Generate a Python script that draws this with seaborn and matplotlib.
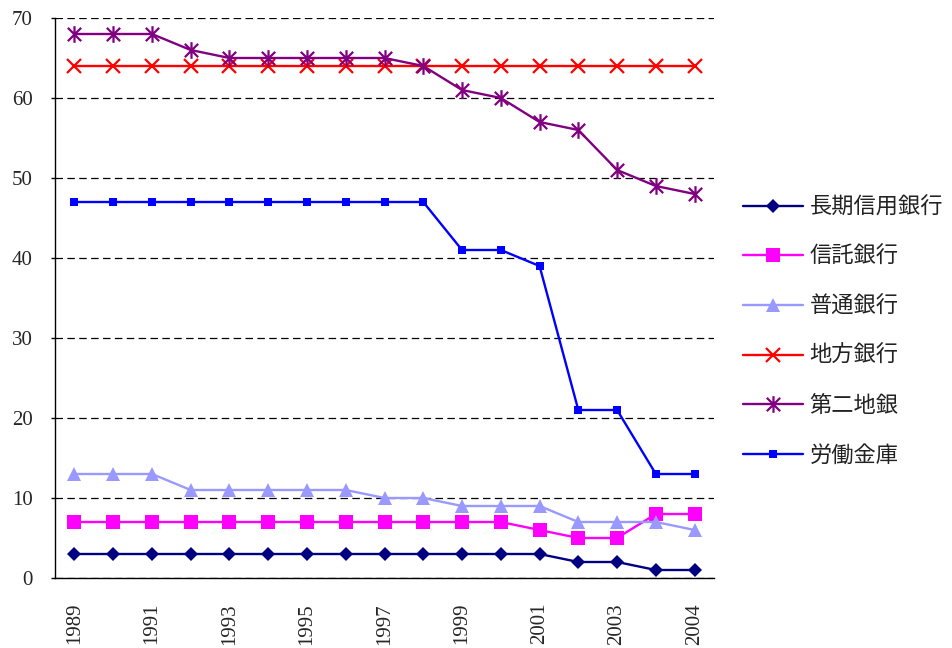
import numpy as np
import pandas as pd
import matplotlib
matplotlib.use("Agg")
import matplotlib.pyplot as plt
from matplotlib.path import Path
import seaborn as sns

# ---- data ----
periods = ["1989", "1990", "1991", "1992", "1993", "1994", "1995", "1996",
           "1997", "1998", "1999", "2000", "2001", "2002", "2003", "2003b", "2004"]
tick_labels = ["1989", "", "1991", "", "1993", "", "1995", "", "1997", "",
               "1999", "", "2001", "", "2003", "", "2004"]

choki = [3, 3, 3, 3, 3, 3, 3, 3, 3, 3, 3, 3, 3, 2, 2, 1, 1]
shintaku = [7, 7, 7, 7, 7, 7, 7, 7, 7, 7, 7, 7, 6, 5, 5, 8, 8]
futsu = [13, 13, 13, 11, 11, 11, 11, 11, 10, 10, 9, 9, 9, 7, 7, 7, 6]
chiho = [64] * 17
daini = [68, 68, 68, 66, 65, 65, 65, 65, 65, 64, 61, 60, 57, 56, 51, 49, 48]
rokin = [47, 47, 47, 47, 47, 47, 47, 47, 47, 47, 41, 41, 39, 21, 21, 13, 13]

series_names = ["長期信用銀行", "信託銀行", "普通銀行", "地方銀行", "第二地銀", "労働金庫"]
series_values = [choki, shintaku, futsu, chiho, daini, rokin]
colors = ["#000080", "#FF00FF", "#9999FF", "#FF0000", "#800080", "#0000FF"]

# ---- style ----
sns.set_style("white")
plt.rcParams["font.family"] = ["Noto Sans CJK JP", "DejaVu Sans"]

asterisk = Path([(0, -1), (0, 1), (-0.8, -0.8), (0.8, 0.8), (-0.8, 0.8), (0.8, -0.8)],
                [Path.MOVETO, Path.LINETO, Path.MOVETO, Path.LINETO, Path.MOVETO, Path.LINETO])

styles = [
    dict(marker="D", markersize=7, markeredgewidth=0),
    dict(marker="s", markersize=10, markeredgewidth=0),
    dict(marker="^", markersize=10, markeredgewidth=0),
    dict(marker="x", markersize=10, markeredgewidth=1.6, markerfacecolor="none"),
    dict(marker=asterisk, markersize=12, markeredgewidth=1.6, markerfacecolor="none"),
    dict(marker="s", markersize=5.5, markeredgewidth=0),
]

fig = plt.figure(figsize=(9.53, 6.48), dpi=100)
ax = fig.add_subplot(111)
fig.subplots_adjust(left=55 / 953, right=714 / 953, bottom=1 - 578 / 648, top=1 - 18 / 648)

pos = np.arange(len(periods))
for name, vals, col, st in zip(series_names, series_values, colors, styles):
    df = pd.DataFrame({"x": pos, "y": vals})
    kw = dict(st)
    if kw.get("markerfacecolor") != "none":
        kw["markerfacecolor"] = col
    kw["markeredgecolor"] = col
    sns.lineplot(data=df, x="x", y="y", ax=ax, color=col, linewidth=1.7,
                 label=name, **kw)

ax.set_xlim(-0.5, len(periods) - 0.5)
ax.set_ylim(0, 70)
ax.set_yticks(np.arange(0, 71, 10))
ax.set_xticks(pos)
ax.set_xticklabels(tick_labels, rotation=90, fontfamily="Liberation Serif", fontsize=15)
ax.set_xticks(np.arange(0.5, len(periods), 1), minor=True)
for lab in ax.get_yticklabels():
    lab.set_fontfamily("Liberation Serif")
    lab.set_fontsize(15)
ax.tick_params(axis="x", which="major", length=0, pad=18)
ax.tick_params(axis="x", which="minor", length=5, width=1, color="black", direction="out")
ax.tick_params(axis="y", which="major", length=3, width=1, color="black", direction="out", pad=13, left=True)
ax.set_xlabel("")
ax.set_ylabel("")

ax.yaxis.grid(True, linestyle=(0, (6, 3.5)), color="black", linewidth=0.9)
ax.xaxis.grid(False)
ax.set_axisbelow(True)
for s in ["top", "right"]:
    ax.spines[s].set_visible(False)
for s in ["left", "bottom"]:
    ax.spines[s].set_color("black")
    ax.spines[s].set_linewidth(1.0)

ax.get_legend().remove()
handles, labels = ax.get_legend_handles_labels()
fig.legend(handles, labels, loc="center left", bbox_to_anchor=(723 / 953, 1 - 331 / 648),
           frameon=False, fontsize=16, handlelength=2.7, labelspacing=1.2,
           handletextpad=0.3, numpoints=1, labelcolor="#222222")

fig.savefig("out.png", dpi=100)
